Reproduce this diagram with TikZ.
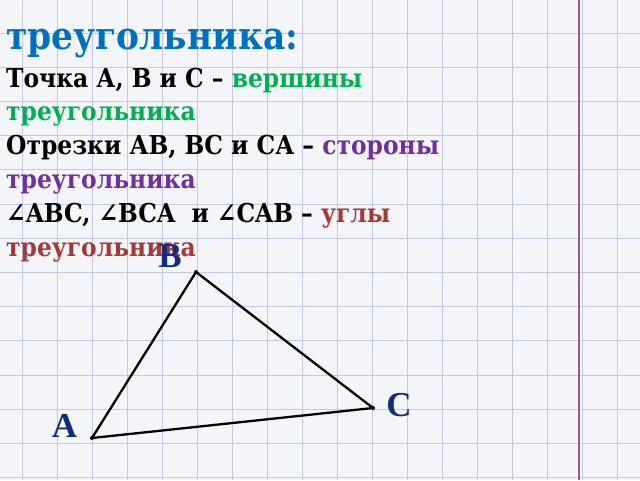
\documentclass[tikz,border=0pt]{standalone}
\usepackage{fontspec}
\setmainfont{DejaVu Serif Condensed}
\newfontfamily\lblfont{Liberation Serif}
\definecolor{paper}{RGB}{244,245,249}
\definecolor{gridc}{RGB}{196,200,232}
\definecolor{margc}{RGB}{160,90,120}
\definecolor{tblue}{RGB}{0,112,192}
\definecolor{tgreen}{RGB}{0,176,80}
\definecolor{tpurple}{RGB}{112,48,160}
\definecolor{tred}{RGB}{163,58,54}
\definecolor{lblc}{RGB}{18,45,125}
\tikzset{
  txt/.style={anchor=base west, inner sep=0pt, font=\fontsize{26}{28}\selectfont\bfseries},
  title/.style={anchor=base west, inner sep=0pt, font=\fontsize{38.3}{40}\selectfont\bfseries, text=tblue},
  vlabel/.style={inner sep=0pt, font=\fontsize{35}{38}\selectfont\lblfont\bfseries, text=lblc},
  side/.style={line width=2.3pt, black, line cap=round, line join=round},
  gridline/.style={gridc, line width=1pt},
  vdot/.style={circle, fill=black, inner sep=0pt, minimum size=4pt}
}
\begin{document}
\begin{tikzpicture}[x=1pt,y=-1pt]
\fill[paper] (0,0) rectangle (640,480);
\useasboundingbox (0,0) rectangle (640,480);
\foreach \i in {0,...,17} { \draw[gridline] ({22+35*\i},0) -- ({22+35*\i},480); }
\foreach \j in {0,...,13} { \draw[gridline] (0,{33+34.2*\j}) -- (640,{33+34.2*\j}); }
\draw[margc, line width=1.8pt] (579,0) -- (579,480);
% text
\node[title] (t1) at (6,49) {треугольника:};
\node[txt] (t2) at (6,87) {Точка А, В и С – \textcolor{tgreen}{вершины}};
\node[txt, text=tgreen] (t3) at (6,120) {треугольника};
\node[txt] (t4) at (6,154) {Отрезки АВ, ВС и СА – \textcolor{tpurple}{стороны}};
\node[txt, text=tpurple] (t5) at (6,188) {треугольника};
\node[txt] (t6) at (6,222) {∠ABC, ∠BCA \ и ∠CAB – \textcolor{tred}{углы}};
\node[txt, text=tred] (t7) at (6,256) {треугольника};
% triangle
\coordinate (A) at (92,438);
\coordinate (B) at (196,272);
\coordinate (C) at (373,408);
\draw[side] (A) -- (B) -- (C) -- cycle;
\node[vdot] (dA) at (A) {};
\node[vdot] (dB) at (B) {};
\node[vdot] (dC) at (C) {};
\node[vlabel] (lA) at (64.5,425.5) {A};
\node[vlabel] (lB) at (170,256) {B};
\node[vlabel] (lC) at (399,405) {C};
\end{tikzpicture}
\end{document}
